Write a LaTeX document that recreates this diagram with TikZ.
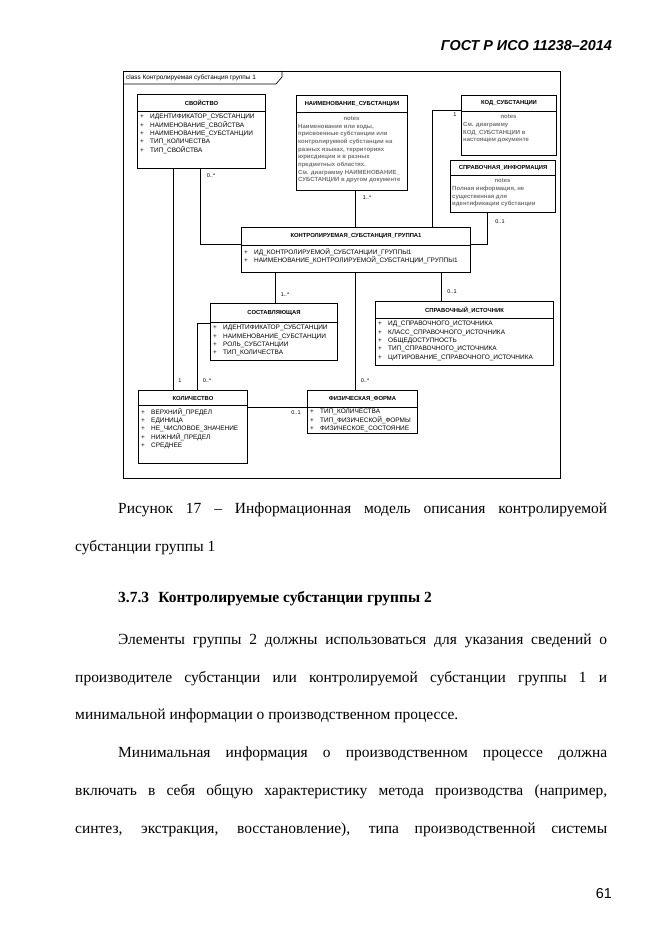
\documentclass[tikz,border=0pt]{standalone}
\usepackage{fontspec}
\setmainfont{Liberation Serif}
\setsansfont{Liberation Sans}
\newlength\px
\setlength\px{0.3177mm}
\newcommand\att[1]{\makebox[10\px][l]{+}#1}
\begin{document}
\begin{tikzpicture}[x=\px, y=-\px,
  class head/.style={draw, line width=0.9pt, anchor=north west, inner sep=0pt, font=\sffamily\bfseries\fontsize{5.3}{6}\selectfont},
  class body/.style={draw, line width=0.9pt, anchor=north west, inner sep=0pt},
  attr/.style={anchor=north west, align=left, inner sep=0pt, font=\sffamily\fontsize{5.85}{7.6}\selectfont},
  note/.style={anchor=north west, align=left, inner sep=0pt, text=black!55, font=\sffamily\bfseries\fontsize{5.4}{6.9}\selectfont},
  mult/.style={inner sep=0pt, font=\sffamily\fontsize{5}{6}\selectfont},
  body line/.style={anchor=base west, inner sep=0pt, font=\fontsize{14}{16}\selectfont}]
\useasboundingbox (0,0) rectangle (661,935);
\node[anchor=base east, inner sep=0pt, font=\sffamily\bfseries\itshape\fontsize{13}{15}\selectfont] (hdr) at (612,51) {ГОСТ Р ИСО 11238–2014};
% frame
\draw[line width=0.6pt] (123,71) rectangle (560,478);
\draw[line width=0.6pt] (123,84) -- (276,84) -- (282,77) -- (282,71);
\node[anchor=west, inner sep=0pt, font=\sffamily\fontsize{5.8}{7}\selectfont] (ttl) at (126,78) {class Контролируемая субстанция группы 1};
% classes
\node[class head, minimum width=128\px, minimum height=17\px] (svh) at (137,94) {СВОЙСТВО};
\node[class body, minimum width=128\px, minimum height=57\px] (sv) at (137,111) {};
\node[attr] (sva) at (140,114) {\att{ИДЕНТИФИКАТОР\_СУБСТАНЦИИ}\\\att{НАИМЕНОВАНИЕ\_СВОЙСТВА}\\\att{НАИМЕНОВАНИЕ\_СУБСТАНЦИИ}\\\att{ТИП\_КОЛИЧЕСТВА}\\\att{ТИП\_СВОЙСТВА}};
\node[class head, minimum width=111\px, minimum height=17\px] (nmh) at (296,95) {НАИМЕНОВАНИЕ\_СУБСТАНЦИИ};
\node[class body, minimum width=111\px, minimum height=78\px] (nm) at (296,112) {};
\node[note, anchor=north] (nmn) at (351.5,116) {notes};
\node[note] (nmt) at (298,124) {Наименования или коды,\\присвоенные субстанции или\\контролируемой субстанции на\\разных языках, территориях\\юрисдикции и в разных\\предметных областях.\\См. диаграмму НАИМЕНОВАНИЕ\_\\СУБСТАНЦИИ в другом документе};
\node[class head, minimum width=95\px, minimum height=16\px] (kodh) at (461,95) {КОД\_СУБСТАНЦИИ};
\node[class body, minimum width=95\px, minimum height=44\px] (kod) at (461,111) {};
\node[note, anchor=north] (kodn) at (508.5,114) {notes};
\node[note] (kodt) at (463,122) {См. диаграмму\\КОД\_СУБСТАНЦИИ в\\настоящем документе};
\node[class head, minimum width=105\px, minimum height=15\px] (sih) at (450,160) {СПРАВОЧНАЯ\_ИНФОРМАЦИЯ};
\node[class body, minimum width=105\px, minimum height=37\px] (si) at (450,175) {};
\node[note, anchor=north] (sin) at (502.5,178) {notes};
\node[note] (sit) at (452,186) {Полная информация, не\\существенная для\\идентификации субстанции};
\node[class head, minimum width=229\px, minimum height=18\px] (ksh) at (241,227) {КОНТРОЛИРУЕМАЯ\_СУБСТАНЦИЯ\_ГРУППА1};
\node[class body, minimum width=229\px, minimum height=27\px] (ks) at (241,245) {};
\node[attr] (ksa) at (244,248) {\att{ИД\_КОНТРОЛИРУЕМОЙ\_СУБСТАНЦИИ\_ГРУППЫ1}\\\att{НАИМЕНОВАНИЕ\_КОНТРОЛИРУЕМОЙ\_СУБСТАНЦИИ\_ГРУППЫ1}};
\node[class head, minimum width=127\px, minimum height=19\px] (sch) at (210,303) {СОСТАВЛЯЮЩАЯ};
\node[class body, minimum width=127\px, minimum height=38\px] (sc) at (210,322) {};
\node[attr] (sca) at (213,325) {\att{ИДЕНТИФИКАТОР\_СУБСТАНЦИИ}\\\att{НАИМЕНОВАНИЕ\_СУБСТАНЦИИ}\\\att{РОЛЬ\_СУБСТАНЦИИ}\\\att{ТИП\_КОЛИЧЕСТВА}};
\node[class head, minimum width=178\px, minimum height=17\px] (srch) at (375,301) {СПРАВОЧНЫЙ\_ИСТОЧНИК};
\node[class body, minimum width=178\px, minimum height=47\px] (src) at (375,318) {};
\node[attr] (srca) at (378,321) {\att{ИД\_СПРАВОЧНОГО\_ИСТОЧНИКА}\\\att{КЛАСС\_СПРАВОЧНОГО\_ИСТОЧНИКА}\\\att{ОБЩЕДОСТУПНОСТЬ}\\\att{ТИП\_СПРАВОЧНОГО\_ИСТОЧНИКА}\\\att{ЦИТИРОВАНИЕ\_СПРАВОЧНОГО\_ИСТОЧНИКА}};
\node[class head, minimum width=109\px, minimum height=15\px] (kolh) at (138,390) {КОЛИЧЕСТВО};
\node[class body, minimum width=109\px, minimum height=58\px] (kol) at (138,405) {};
\node[attr] (kola) at (141,408) {\att{ВЕРХНИЙ\_ПРЕДЕЛ}\\\att{ЕДИНИЦА}\\\att{НЕ\_ЧИСЛОВОЕ\_ЗНАЧЕНИЕ}\\\att{НИЖНИЙ\_ПРЕДЕЛ}\\\att{СРЕДНЕЕ}};
\node[class head, minimum width=110\px, minimum height=17\px] (ffh) at (307,390) {ФИЗИЧЕСКАЯ\_ФОРМА};
\node[class body, minimum width=110\px, minimum height=26\px] (ff) at (307,407) {};
\node[attr] (ffa) at (310,409) {\att{ТИП\_КОЛИЧЕСТВА}\\\att{ТИП\_ФИЗИЧЕСКОЙ\_ФОРМЫ}\\\att{ФИЗИЧЕСКОЕ\_СОСТОЯНИЕ}};
% connectors
\coordinate (l1) at (173,0);
\coordinate (b2) at (200,244);
\coordinate (l3) at (355,0);
\coordinate (b4) at (432,110);
\coordinate (b5) at (487,244);
\coordinate (l6) at (275,0);
\coordinate (l8) at (441,0);
\coordinate (b9) at (197,323);
\coordinate (l10) at (0,407);
\begin{scope}[line width=0.8pt]
\draw (sv.south -| l1) -- (kolh.north -| l1);
\draw (sv.south -| b2) -- (b2) -- (b2 -| ksh.west);
\draw (nm.south -| l3) -- (ksh.north -| l3);
\draw (b4 -| kodh.west) -- (b4) -- (b4 |- ksh.north);
\draw (si.south -| b5) -- (b5) -- (b5 -| ksh.east);
\draw (ks.south -| l6) -- (sch.north -| l6);
\draw (ks.south -| l3) -- (ffh.north -| l3);
\draw (ks.south -| l8) -- (srch.north -| l8);
\draw (b9 -| sc.west) -- (b9) -- (b9 |- kolh.north);
\draw (l10 -| kol.east) -- (l10 -| ff.west);
\end{scope}
\node[mult] (m1) at (180,381) {1};
\node[mult] (m2) at (211,176) {0..*};
\node[mult] (m3) at (367,198) {1..*};
\node[mult] (m4) at (455,115) {1};
\node[mult] (m5) at (500,222) {0..1};
\node[mult] (m6) at (285,295) {1..*};
\node[mult] (m7) at (365,381) {0..*};
\node[mult] (m8) at (452,292) {0..1};
\node[mult] (m9) at (207,381) {0..*};
\node[mult] (m10) at (296,413) {0..1};
% text of the page
\node[body line] (t1) at (118,513) {\makebox[489\px][s]{Рисунок 17 – Информационная модель описания контролируемой}};
\node[body line] (t2) at (75,551) {субстанции группы 1};
\node[body line, font=\bfseries\fontsize{14}{16}\selectfont] (t3) at (118,602) {3.7.3\hspace{0.6em}Контролируемые субстанции группы 2};
\node[body line] (t4) at (118,644) {\makebox[489\px][s]{Элементы группы 2 должны использоваться для указания сведений о}};
\node[body line] (t5) at (75,682) {\makebox[532\px][s]{производителе субстанции или контролируемой субстанции группы 1 и}};
\node[body line] (t6) at (75,719) {минимальной информации о производственном процессе.};
\node[body line] (t7) at (118,757) {\makebox[489\px][s]{Минимальная информация о производственном процессе должна}};
\node[body line] (t8) at (75,795) {\makebox[532\px][s]{включать в себя общую характеристику метода производства (например,}};
\node[body line] (t9) at (75,833) {\makebox[532\px][s]{синтез, экстракция, восстановление), типа производственной системы}};
\node[anchor=base east, inner sep=0pt, font=\sffamily\fontsize{13}{15}\selectfont] (pg) at (612,898) {61};
\end{tikzpicture}
\end{document}
